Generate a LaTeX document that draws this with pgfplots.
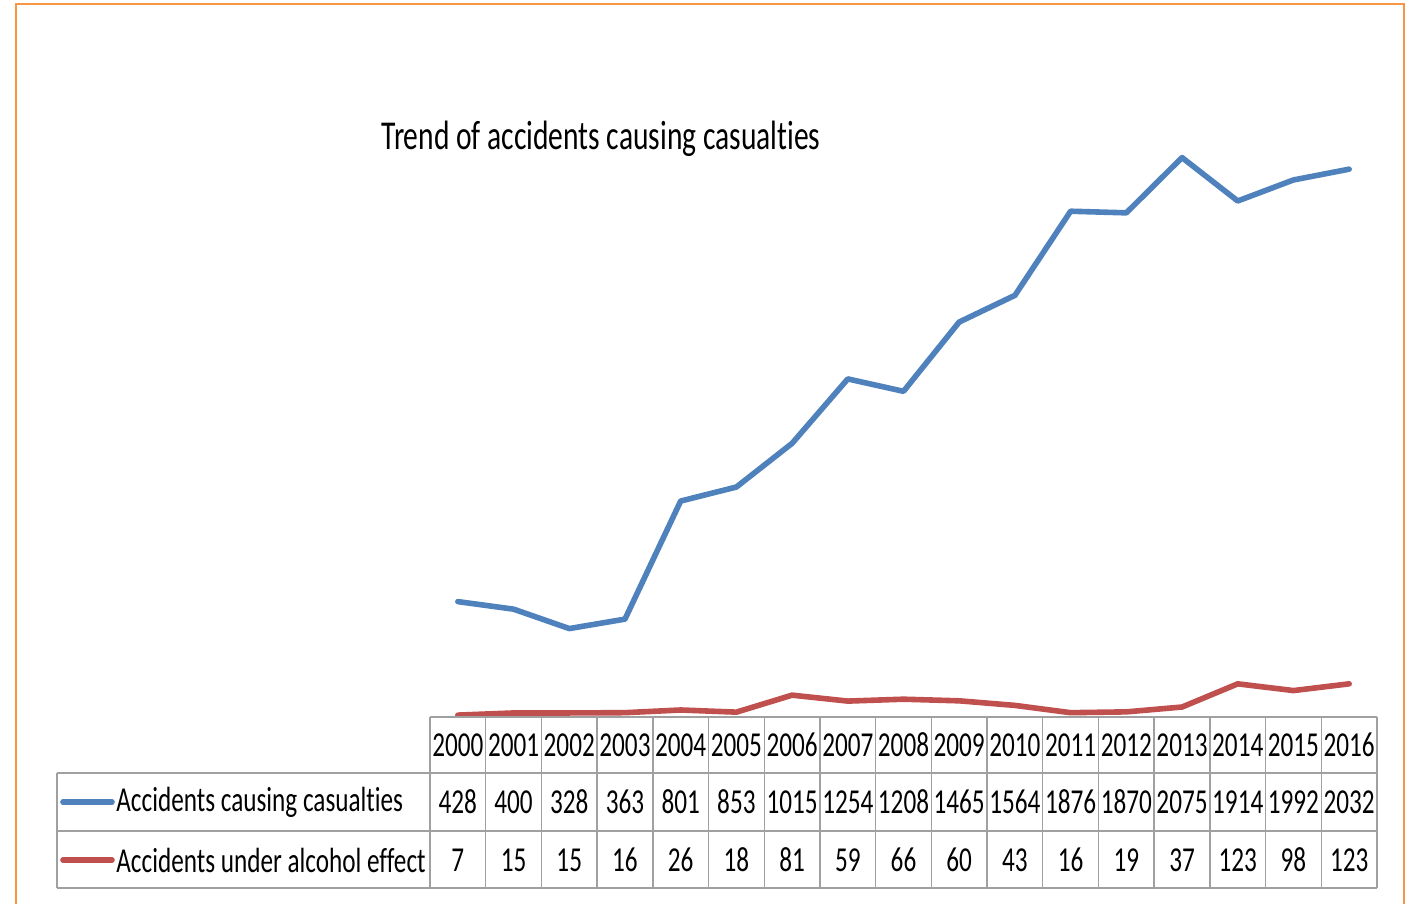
\documentclass[border=0pt]{standalone}
\usepackage{fontspec}
\setmainfont[FakeStretch=0.72, Ligatures=NoCommon]{Carlito}
\usepackage{pgfplots}
\pgfplotsset{compat=1.18}
\definecolor{xlblue}{HTML}{4F81BD}
\definecolor{xlred}{HTML}{C0504D}
\definecolor{xlorange}{HTML}{F79646}
\definecolor{gridgray}{HTML}{A0A0A0}
\begin{document}
\begin{tikzpicture}
% page = reference image, 1px = 0.5pt, origin at lower left of plot area
\useasboundingbox (-215pt,-93.5pt) rectangle (492pt,358.5pt);
\draw[xlorange, line width=1.2pt] (-207pt,-93.5pt) -- (-207pt,356.5pt) -- (487pt,356.5pt) -- (487pt,-93.5pt);

\begin{axis}[
	at={(0pt,0pt)}, anchor=south west,
	scale only axis, width=473.5pt, height=337pt,
	xmin=-0.5, xmax=16.5, ymin=0, ymax=2500,
	hide axis, clip=false]
\addplot[xlblue, line width=2.8pt, line join=round, line cap=round] coordinates {
	(0,428) (1,400) (2,328) (3,363) (4,801) (5,853) (6,1015) (7,1254) (8,1208)
	(9,1465) (10,1564) (11,1876) (12,1870) (13,2075) (14,1914) (15,1992) (16,2032)
};
\addplot[xlred, line width=2.8pt, line join=round, line cap=round] coordinates {
	(0,7) (1,15) (2,15) (3,16) (4,26) (5,18) (6,81) (7,59) (8,66)
	(9,60) (10,43) (11,16) (12,19) (13,37) (14,123) (15,98) (16,123)
};
\end{axis}

\node[font=\fontsize{20.5}{22}\selectfont] at (85.5pt,289pt) {Trend of accidents causing casualties};

% data table
\def\cw{27.853}
\begin{scope}[gridgray, line width=0.7pt]
	\draw (0pt,0pt) -- (473.5pt,0pt);
	\draw (-186.5pt,-28pt) -- (473.5pt,-28pt);
	\draw (-186.5pt,-57pt) -- (473.5pt,-57pt);
	\draw (-186.5pt,-85.5pt) -- (473.5pt,-85.5pt);
	\draw (-186.5pt,-28pt) -- (-186.5pt,-85.5pt);
	\foreach \k in {0,...,17} \draw (\k*\cw pt,0pt) -- (\k*\cw pt,-85.5pt);
\end{scope}

\begin{scope}[font=\fontsize{17.5}{19}\selectfont, inner sep=0pt]
	\foreach \v [count=\i from 0] in {2000,2001,2002,2003,2004,2005,2006,2007,2008,2009,2010,2011,2012,2013,2014,2015,2016}
		\node at ({(\i+0.5)*\cw pt},-14pt) {\v};
	\foreach \v [count=\i from 0] in {428,400,328,363,801,853,1015,1254,1208,1465,1564,1876,1870,2075,1914,1992,2032}
		\node at ({(\i+0.5)*\cw pt},-42.5pt) {\v};
	\foreach \v [count=\i from 0] in {7,15,15,16,26,18,81,59,66,60,43,16,19,37,123,98,123}
		\node at ({(\i+0.5)*\cw pt},-71.5pt) {\v};
	\draw[xlblue, line width=2.8pt, line cap=round] (-183.5pt,-42.5pt) -- (-159pt,-42.5pt);
	\draw[xlred, line width=2.8pt, line cap=round] (-183.5pt,-71.5pt) -- (-159pt,-71.5pt);
	\node[anchor=west] at (-157pt,-42.5pt) {Accidents causing casualties};
	\node[anchor=west] at (-157pt,-71.5pt) {Accidents under alcohol effect};
\end{scope}
\end{tikzpicture}
\end{document}
